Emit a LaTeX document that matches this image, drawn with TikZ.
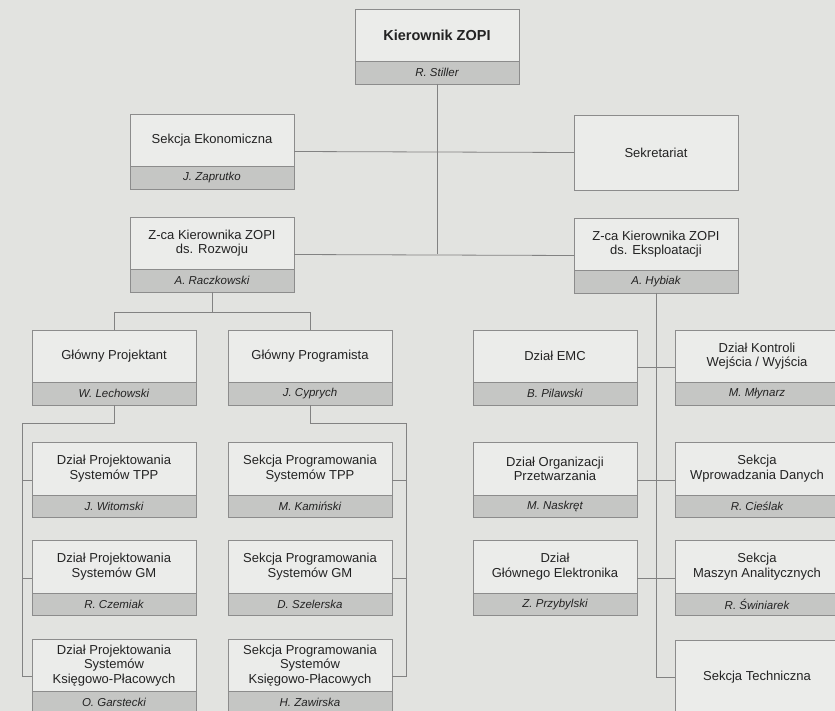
\documentclass[tikz,border=0pt]{standalone}
\usepackage{fontspec}
\setmainfont{Liberation Sans}
\usetikzlibrary{calc}
\definecolor{bgc}{RGB}{226,227,224}
\definecolor{boxc}{RGB}{235,236,234}
\definecolor{bandc}{RGB}{197,198,196}
\definecolor{bordc}{RGB}{140,140,140}
\definecolor{linec}{RGB}{130,130,130}
\definecolor{txtc}{RGB}{35,35,35}
\tikzset{
  obox/.style={draw=bordc, fill=boxc, line width=0.9pt, minimum width=164pt, minimum height=75pt, inner sep=0pt, outer sep=0pt, anchor=north west},
  oband/.style={draw=bordc, fill=bandc, line width=0.9pt, minimum width=164pt, minimum height=22.5pt, inner sep=0pt, outer sep=0pt, anchor=south, text=txtc, font=\fontsize{11.5}{13}\selectfont\itshape},
  otext/.style={inner sep=0pt, align=center, text=txtc, font=\fontsize{13}{14.5}\selectfont},
  conn/.style={draw=linec, line width=0.8pt}
}
\newcommand{\orgbox}[5]{%
  \node[obox] (#1) at (#2,#3) {};
  \node[oband] (#1b) at (#1.south) {#5};
  \node[otext] (#1t) at ($(#1.north)!0.35!(#1.south)$) {#4};
}
\begin{document}
\begin{tikzpicture}[x=1pt,y=-1pt]
\useasboundingbox (0,0) rectangle (835,711);
\fill[bgc] (0,0) rectangle (835,711);

\coordinate (busA) at (211,312);
\coordinate (lb) at (22,423);
\coordinate (rb) at (406,423);

\orgbox{top}{355}{9}{{\fontsize{14.5}{17}\selectfont\bfseries Kierownik ZOPI}}{R. Stiller}
\orgbox{ekon}{130}{114}{Sekcja Ekonomiczna}{J. Zaprutko}
\node[obox] (sekr) at (574,115) {};
\node[otext] (sekrt) at (sekr.center) {Sekretariat};
\orgbox{zr}{130}{217}{Z-ca Kierownika ZOPI\\ds. Rozwoju}{A. Raczkowski}
\orgbox{ze}{574}{218}{Z-ca Kierownika ZOPI\\ds. Eksploatacji}{A. Hybiak}
\orgbox{gp}{32}{330}{Główny Projektant}{W. Lechowski}
\orgbox{gr}{228}{330}{Główny Programista}{J. Cyprych}
\orgbox{emc}{473}{330}{Dział EMC}{B. Pilawski}
\orgbox{kon}{675}{330}{Dział Kontroli\\Wejścia / Wyjścia}{M. Młynarz}
\orgbox{dpa}{32}{442.5}{Dział Projektowania\\Systemów TPP}{J. Witomski}
\orgbox{spa}{228}{442.5}{Sekcja Programowania\\Systemów TPP}{M. Kamiński}
\orgbox{org}{473}{442.5}{Dział Organizacji\\Przetwarzania}{M. Naskręt}
\orgbox{wpr}{675}{442.5}{Sekcja\\Wprowadzania Danych}{R. Cieślak}
\orgbox{dpb}{32}{540.5}{Dział Projektowania\\Systemów GM}{R. Czemiak}
\orgbox{spb}{228}{540.5}{Sekcja Programowania\\Systemów GM}{D. Szelerska}
\orgbox{elek}{473}{540.5}{Dział\\Głównego Elektronika}{Z. Przybylski}
\orgbox{masz}{675}{540.5}{Sekcja\\Maszyn Analitycznych}{R. Świniarek}
\orgbox{dpc}{32}{639}{Dział Projektowania\\Systemów\\Księgowo-Płacowych}{O. Garstecki}
\orgbox{spc}{228}{639}{Sekcja Programowania\\Systemów\\Księgowo-Płacowych}{H. Zawirska}
\node[obox] (st) at (675,640) {};
\node[otext] (stt) at (st.center) {Sekcja Techniczna};

% top level
\draw[conn] (topb.south) -- (topb.south |- zr.east);
\draw[conn] (ekon.east) -- (sekr.west);
\draw[conn] (zr.east) -- (ze.west);
% development branch
\draw[conn] (zrb.south) -- (zrb.south |- busA);
\draw[conn] (gp.north) -- (gp.north |- busA) -- (gr.north |- busA) -- (gr.north);
% left bus
\draw[conn] (gpb.south) -- (gpb.south |- lb) -- (lb) -- (lb |- dpc.west) -- (dpc.west);
\draw[conn] (lb |- dpa.west) -- (dpa.west);
\draw[conn] (lb |- dpb.west) -- (dpb.west);
% right bus
\draw[conn] (grb.south) -- (grb.south |- rb) -- (rb) -- (rb |- spc.east) -- (spc.east);
\draw[conn] (rb |- spa.east) -- (spa.east);
\draw[conn] (rb |- spb.east) -- (spb.east);
% exploitation branch
\draw[conn] (zeb.south) -- (zeb.south |- st.west) -- (st.west);
\draw[conn] (emc.east) -- (kon.west);
\draw[conn] (org.east) -- (wpr.west);
\draw[conn] (elek.east) -- (masz.west);
\end{tikzpicture}
\end{document}
